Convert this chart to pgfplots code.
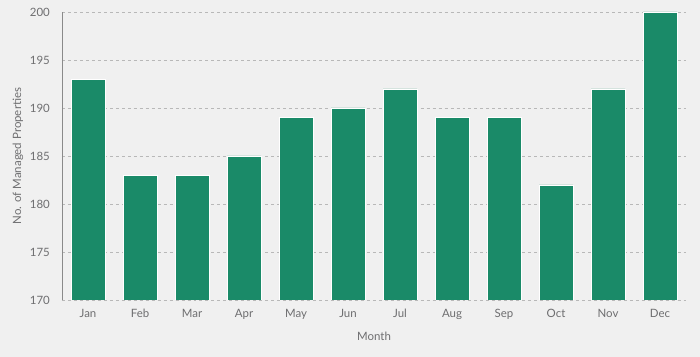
\documentclass[border=0pt]{standalone}
\usepackage{fontspec}
\setmainfont{Lato}
\usepackage{pgfplots}
\pgfplotsset{compat=1.18}
\definecolor{bg}{HTML}{F0F0F0}
\definecolor{barc}{HTML}{1A8A68}
\definecolor{txt}{HTML}{6E6E70}
\definecolor{gridc}{HTML}{B8B8B8}
\definecolor{axc}{HTML}{8A8A8A}
\begin{document}
\begin{tikzpicture}
\fill[bg] (0,0) rectangle (700bp,357bp);
\begin{axis}[
  at={(62bp,57bp)}, anchor=south west,
  scale only axis, width=624bp, height=288bp,
  xmin=-0.5, xmax=11.5, ymin=170, ymax=200,
  xtick={0,...,11},
  xticklabels={Jan,Feb,Mar,Apr,May,Jun,Jul,Aug,Sep,Oct,Nov,Dec},
  ytick={170,175,...,200},
  ymajorgrids, grid style={gridc, dashed, line width=0.6pt},
  axis lines*=left,
  x axis line style={draw=none},
  y axis line style={axc, line width=0.8pt},
  major tick length=0pt,
  /pgf/number format/assume math mode=true,
  tick label style={font=\fontsize{11.5}{13}\selectfont, text=txt},
  yticklabel style={inner sep=0pt, anchor=east, xshift=-12bp},
  xticklabel style={inner sep=0pt, anchor=north, yshift=-9bp},
  xlabel={Month}, ylabel={No. of Managed Properties},
  label style={font=\fontsize{11.5}{13}\selectfont, text=txt},
  xlabel style={at={([yshift=-36bp]axis description cs:0.5,0)}, anchor=center},
  ylabel style={at={([xshift=-44bp]axis description cs:0,0.5)}, anchor=center},
  clip=true,
]
\addplot[ybar, bar width=34bp, bar shift=0pt, fill=barc, draw=white, line width=0.4pt] coordinates {
(0,193) (1,183) (2,183) (3,185) (4,189) (5,190) (6,192) (7,189) (8,189) (9,182) (10,192) (11,200)
};
\end{axis}
\end{tikzpicture}
\end{document}
